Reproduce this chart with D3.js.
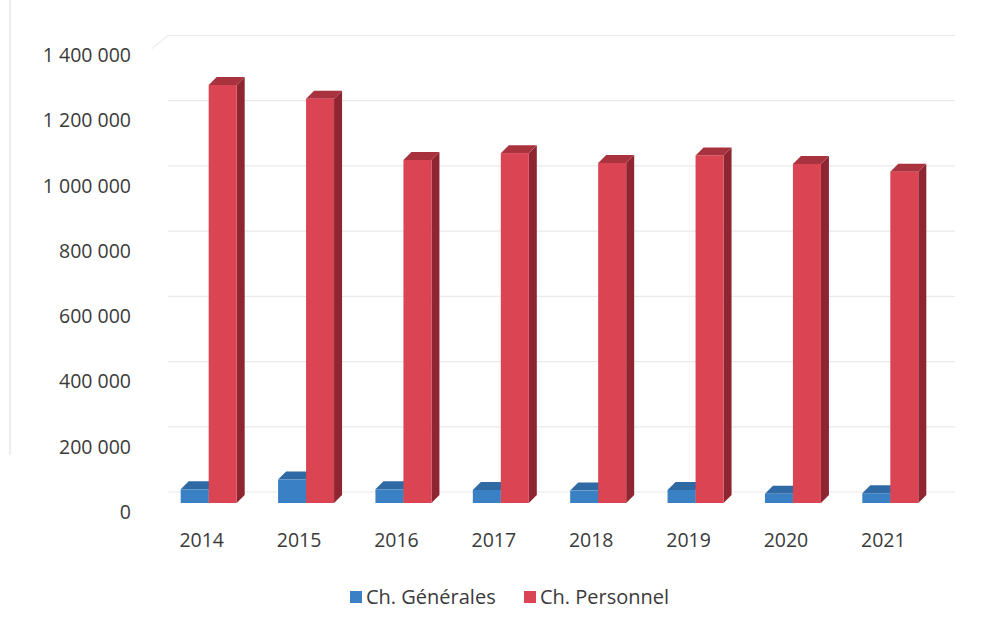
<!DOCTYPE html>
<html>
<head>
<meta charset="utf-8">
<script src="https://cdn.jsdelivr.net/npm/d3@7"></script>
<style>
  html, body { margin: 0; padding: 0; background: #fff; }
  svg { display: block; }
  text { font-family: "Open Sans", "Noto Sans", sans-serif; fill: #3a3a3a; }
</style>
</head>
<body>
<svg id="chart" width="983" height="623"></svg>
<script>
// Charges per year
const years = ["2014", "2015", "2016", "2017", "2018", "2019", "2020", "2021"];
const chGenerales = [42000, 72000, 42000, 40000, 38000, 40000, 28000, 30000];
const chPersonnel = [1282000, 1240000, 1052000, 1073000, 1043000, 1066000, 1040000, 1016000];
const seriesNames = ["Ch. Générales", "Ch. Personnel"];
const yTicks = [0, 200000, 400000, 600000, 800000, 1000000, 1200000, 1400000];

const svg = d3.select("#chart");

// oblique 3D offsets
const depthX = 8, depthY = -8;       // bar depth
const wallShift = -11;               // back wall relative to bar front plane
const labelShift = 8;                // axis labels relative to bar front plane

const y = d3.scaleLinear().domain([0, 1400000]).range([503, 46.5]);
const x = d3.scaleBand().domain(years).range([161, 940]).paddingInner(0).paddingOuter(0);
const barW = 28;

const colors = {
  gen: { front: "#3a80c4", side: "#245a8e", top: "#2f6aa5" },
  per: { front: "#db4453", side: "#8e2530", top: "#a8323d" }
};

// faint scan frame edge on the left
svg.append("line")
  .attr("x1", 10).attr("x2", 10).attr("y1", 0).attr("y2", 455)
  .attr("stroke", "#e8e8e8").attr("stroke-width", 1.5);

// back wall gridlines
const gx0 = 168, gx1 = 955;
svg.append("g").selectAll("line").data(yTicks).join("line")
  .attr("x1", gx0).attr("x2", gx1)
  .attr("y1", d => y(d) + wallShift).attr("y2", d => y(d) + wallShift)
  .attr("stroke", "#e9e9e9").attr("stroke-width", 1.2);

// left wall top edge
svg.append("line")
  .attr("x1", 152).attr("y1", y(1400000) + labelShift - 6)
  .attr("x2", gx0).attr("y2", y(1400000) + wallShift)
  .attr("stroke", "#ececec").attr("stroke-width", 1.2);

// y axis labels
const yAxis = d3.axisLeft(y).tickValues(yTicks).tickSize(0).tickPadding(0)
  .tickFormat(d => d3.format(",")(d).replace(/,/g, " "));
const ya = svg.append("g").attr("transform", `translate(131,${labelShift + 1})`).call(yAxis);
ya.select(".domain").remove();
ya.selectAll("text").style("font-size", "19.5px").attr("fill", "#3a3a3a")
  .style("font-family", '"Open Sans", "Noto Sans", sans-serif');

// x axis labels
const xAxis = d3.axisBottom(x).tickSize(0).tickPadding(0);
const xa = svg.append("g").attr("transform", `translate(-8,533)`).call(xAxis);
xa.select(".domain").remove();
xa.selectAll("text").style("font-size", "19.5px").attr("fill", "#3a3a3a")
  .style("font-family", '"Open Sans", "Noto Sans", sans-serif');

// draw one oblique 3D column
function column(g, x0, v, c) {
  const x1 = x0 + barW, yb = y(0), yt = y(v);
  g.append("polygon")
    .attr("points", [[x1, yt], [x1 + depthX, yt + depthY], [x1 + depthX, yb + depthY], [x1, yb]].join(" "))
    .attr("fill", c.side);
  g.append("polygon")
    .attr("points", [[x0, yt], [x0 + depthX, yt + depthY], [x1 + depthX, yt + depthY], [x1, yt]].join(" "))
    .attr("fill", c.top);
  g.append("rect")
    .attr("x", x0).attr("y", yt).attr("width", barW).attr("height", yb - yt)
    .attr("fill", c.front);
}

const bars = svg.append("g");
years.forEach((yr, i) => {
  const cx = x(yr) + x.bandwidth() / 2;
  const g = bars.append("g");
  column(g, cx - barW - 1, chGenerales[i], colors.gen);
  column(g, cx - 1, chPersonnel[i], colors.per);
});

// legend
const legend = svg.append("g");
const items = [
  { name: seriesNames[0], color: colors.gen.front, x: 350 },
  { name: seriesNames[1], color: colors.per.front, x: 524 }
];
items.forEach(it => {
  legend.append("rect").attr("x", it.x).attr("y", 591).attr("width", 12).attr("height", 12)
    .attr("fill", it.color);
  legend.append("text").attr("x", it.x + 16).attr("y", 597).attr("dy", "0.35em")
    .style("font-size", "20px").text(it.name);
});
</script>
</body>
</html>
